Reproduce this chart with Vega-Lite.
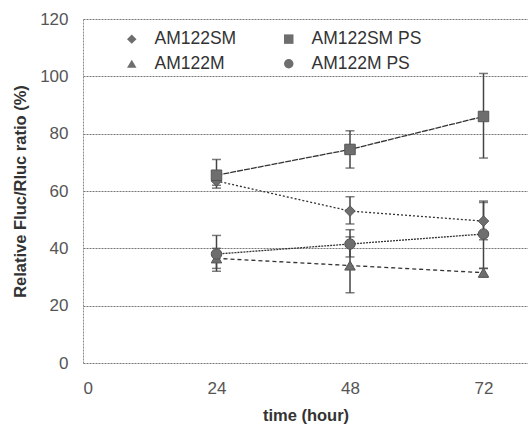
{
  "$schema": "https://vega.github.io/schema/vega-lite/v6.json",
  "autosize": "none",
  "width": 445,
  "height": 344,
  "padding": {"left": 83, "top": 19, "right": 0, "bottom": 66},
  "background": "white",
  "config": {
    "font": "Liberation Sans",
    "view": {"stroke": null},
    "axis": {"labelColor": "#555", "labelFontSize": 17, "titleFontSize": 16.5, "titleColor": "#333", "titleFontWeight": "bold"}
  },
  "data": {
    "values": [
      {"series": "AM122SM", "time": 24, "value": 63.5, "lo": 62, "hi": 66},
      {"series": "AM122SM", "time": 48, "value": 53, "lo": 48.5, "hi": 58},
      {"series": "AM122SM", "time": 72, "value": 49.5, "lo": 43, "hi": 56.5},
      {"series": "AM122SM PS", "time": 24, "value": 65.5, "lo": 61, "hi": 71},
      {"series": "AM122SM PS", "time": 48, "value": 74.5, "lo": 68, "hi": 81},
      {"series": "AM122SM PS", "time": 72, "value": 86, "lo": 71.5, "hi": 101},
      {"series": "AM122M", "time": 24, "value": 36.5, "lo": 33, "hi": 40},
      {"series": "AM122M", "time": 48, "value": 34, "lo": 24.5, "hi": 44},
      {"series": "AM122M", "time": 72, "value": 31.5, "lo": 30, "hi": 33},
      {"series": "AM122M PS", "time": 24, "value": 38, "lo": 32, "hi": 44.5},
      {"series": "AM122M PS", "time": 48, "value": 41.5, "lo": 37, "hi": 46.5},
      {"series": "AM122M PS", "time": 72, "value": 45, "lo": 33, "hi": 56}
    ]
  },
  "layer": [
    {
      "mark": {"type": "rule", "color": "#444", "strokeWidth": 1.5},
      "encoding": {
        "x": {"field": "time", "type": "quantitative", "scale": {"domain": [0, 80]},
          "axis": {"values": [0, 24, 48, 72], "grid": false, "domain": false, "ticks": false, "labelPadding": 17, "title": "time (hour)", "titlePadding": 11}},
        "y": {"field": "lo", "type": "quantitative", "scale": {"domain": [0, 120]},
          "axis": {"values": [0, 20, 40, 60, 80, 100, 120], "grid": true, "gridColor": "#777", "gridDash": [2, 1], "gridWidth": 1, "gridOpacity": 1, "domain": true, "domainColor": "#888", "domainDash": [2, 1], "ticks": false, "labelPadding": 15, "title": "Relative Fluc/Rluc ratio (%)", "titlePadding": 11}},
        "y2": {"field": "hi"}
      }
    },
    {
      "mark": {"type": "tick", "color": "#444", "orient": "horizontal", "size": 9, "thickness": 1.5},
      "encoding": {"x": {"field": "time", "type": "quantitative"}, "y": {"field": "lo", "type": "quantitative"}}
    },
    {
      "mark": {"type": "tick", "color": "#444", "orient": "horizontal", "size": 9, "thickness": 1.5},
      "encoding": {"x": {"field": "time", "type": "quantitative"}, "y": {"field": "hi", "type": "quantitative"}}
    },
    {
      "mark": {"type": "line", "color": "#333", "strokeWidth": 1.3},
      "encoding": {
        "x": {"field": "time", "type": "quantitative"},
        "y": {"field": "value", "type": "quantitative"},
        "detail": {"field": "series"},
        "strokeDash": {"field": "series", "type": "nominal",
          "scale": {"domain": ["AM122SM", "AM122M", "AM122SM PS", "AM122M PS"], "range": [[2, 2], [4, 3], [6, 1], [2, 1]]},
          "legend": {"title": null, "orient": "none", "legendX": 40, "legendY": 11, "columns": 2, "columnPadding": 43, "rowPadding": 6,
            "labelFontSize": 17.5, "labelColor": "#333", "symbolFillColor": "#6e6e6e", "symbolStrokeColor": "#555", "symbolSize": 90, "symbolOpacity": 1, "labelOffset": 14}}
      }
    },
    {
      "mark": {"type": "point", "filled": true, "color": "#6e6e6e", "opacity": 1, "size": 110, "stroke": "#555", "strokeWidth": 1},
      "encoding": {
        "x": {"field": "time", "type": "quantitative"},
        "y": {"field": "value", "type": "quantitative"},
        "shape": {"field": "series", "type": "nominal",
          "scale": {"domain": ["AM122SM", "AM122M", "AM122SM PS", "AM122M PS"], "range": ["diamond", "triangle-up", "square", "circle"]},
          "legend": {"title": null, "orient": "none", "legendX": 40, "legendY": 11, "columns": 2, "columnPadding": 43, "rowPadding": 6,
            "labelFontSize": 17.5, "labelColor": "#333", "symbolFillColor": "#6e6e6e", "symbolStrokeColor": "#555", "symbolSize": 90, "symbolOpacity": 1, "labelOffset": 14}}
      }
    }
  ]
}
